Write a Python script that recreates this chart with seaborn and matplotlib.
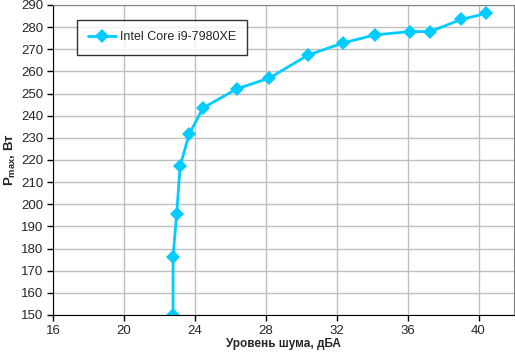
import pandas as pd
import seaborn as sns
import matplotlib.pyplot as plt

# noise level (dBA) vs max power (W)
noise = [22.77, 22.77, 22.97, 23.17, 23.68, 24.46, 26.36, 28.2, 30.39,
         32.37, 34.17, 36.12, 37.28, 39.03, 40.44]
power = [150.0, 176.2, 195.4, 217.3, 231.7, 243.5, 252.1, 257.0, 267.4,
         272.9, 276.5, 278.0, 278.0, 283.5, 286.2]
series = 'Intel Core i9-7980XE'

data = pd.DataFrame({'noise': noise, 'power': power, 'cpu': series})

sns.set_style('white')
plt.rcParams['font.family'] = ['Liberation Sans', 'DejaVu Sans']

fig = plt.figure(figsize=(5.15, 3.59), dpi=100)
ax = fig.add_axes([53 / 515, 1 - 315 / 359, 461 / 515, 310 / 359])

sns.lineplot(data=data, x='noise', y='power', hue='cpu', sort=False,
             estimator=None, palette=['#00ccff'], marker='D', markersize=7,
             markeredgewidth=0, linewidth=2, ax=ax)

ax.set_xlim(16, 42)
ax.set_ylim(150, 290)
ax.set_xticks(range(16, 41, 4))
ax.set_yticks(range(150, 291, 10))
ax.grid(True, color='#c0c0c0', linewidth=1)
ax.set_axisbelow(True)
for s in ['top', 'right']:
    ax.spines[s].set_color('#808080')
for s in ['left', 'bottom']:
    ax.spines[s].set_color('black')
ax.tick_params(axis='both', length=4, width=1, color='black', direction='out',
               labelsize=9.5, pad=3, left=True, bottom=True)

ax.set_xlabel('Уровень шума, дБА', fontweight='bold', fontsize=8.5, labelpad=1)
ax.set_ylabel(r'P$_{\mathregular{max}}$, Вт', fontweight='bold', fontsize=9.5, labelpad=2)
ax.yaxis.set_label_coords(-0.077, 0.5)

leg = ax.legend(loc='upper left', bbox_to_anchor=(24 / 461, 1 - 15 / 310),
                frameon=True, fancybox=False, fontsize=9, handlelength=2.2,
                handletextpad=0.3, borderpad=0.9, borderaxespad=0)
leg.get_frame().set_edgecolor('black')
leg.get_frame().set_linewidth(1)

plt.savefig('out.png', dpi=100)
